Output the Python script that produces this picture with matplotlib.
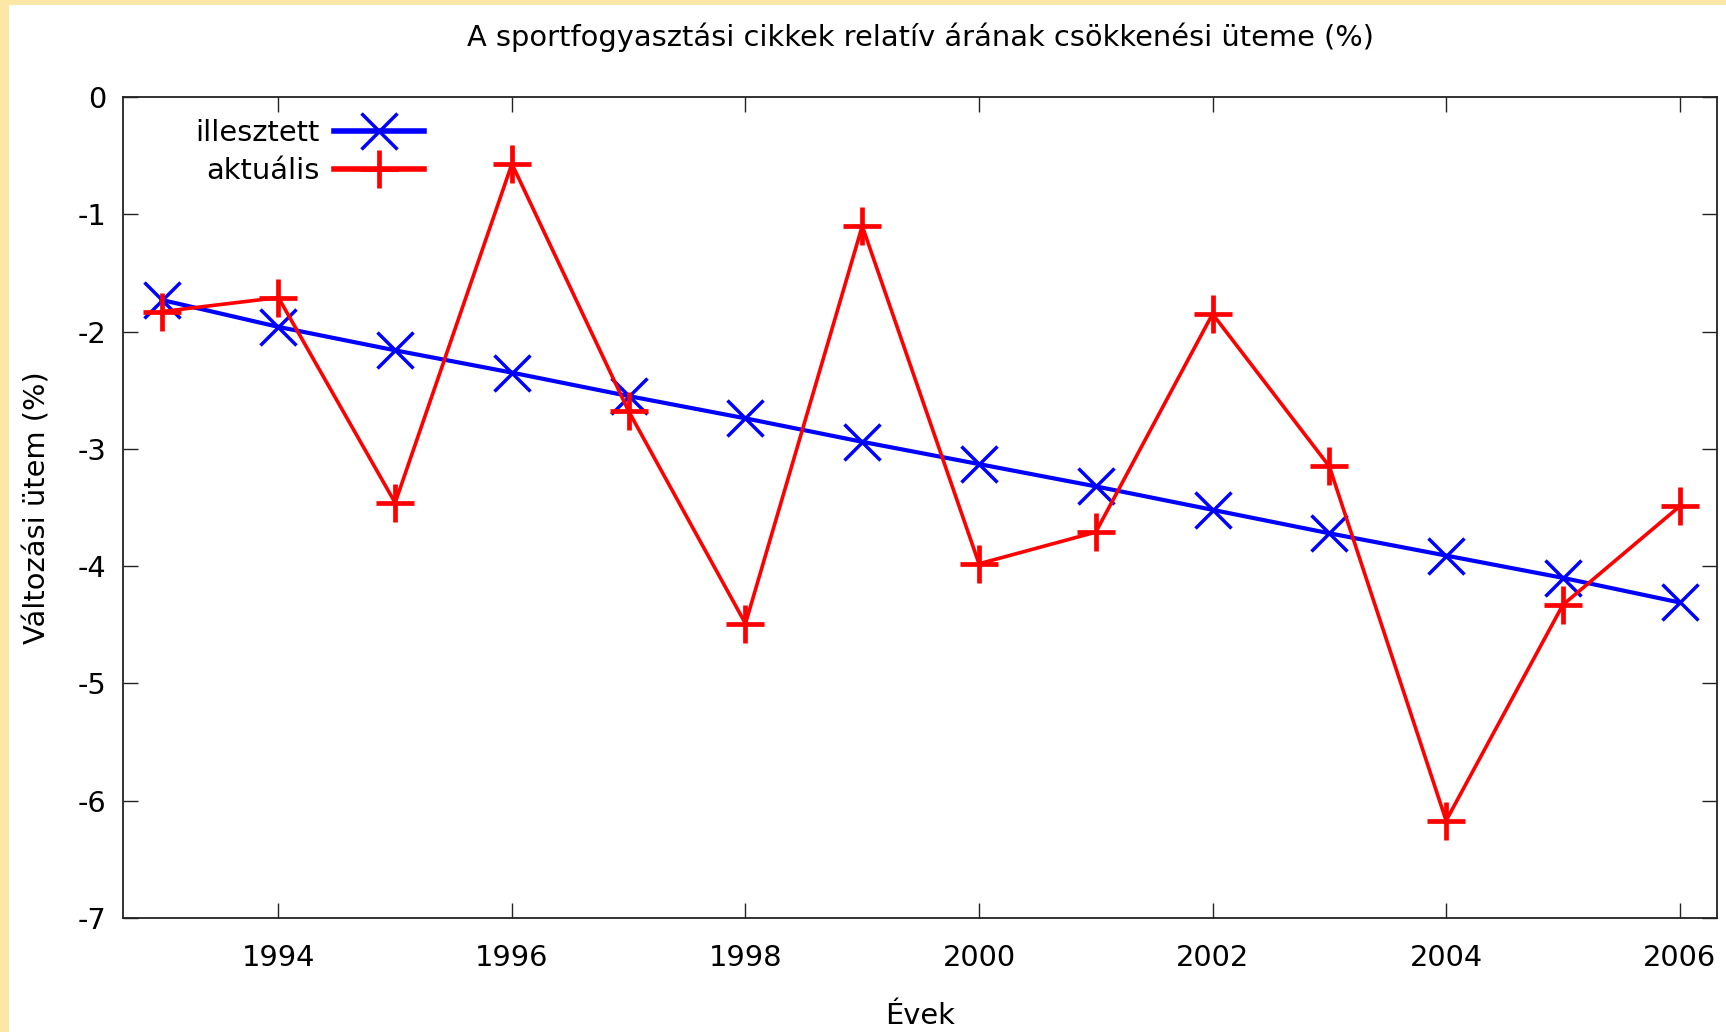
import matplotlib
matplotlib.use("Agg")
import matplotlib.pyplot as plt
from matplotlib.patches import Rectangle

# adatok (leolvasva)
years = [1993, 1994, 1995, 1996, 1997, 1998, 1999, 2000, 2001, 2002, 2003, 2004, 2005, 2006]
fitted = [-1.73, -1.96, -2.16, -2.35, -2.55, -2.74, -2.94, -3.13, -3.32, -3.52, -3.72, -3.91, -4.10, -4.31]
actual = [-1.83, -1.71, -3.46, -0.57, -2.68, -4.49, -1.10, -3.98, -3.71, -1.85, -3.15, -6.17, -4.33, -3.49]
xticks = [1994, 1996, 1998, 2000, 2002, 2004, 2006]
yticks = [0, -1, -2, -3, -4, -5, -6, -7]

plt.rcParams['font.family'] = ['DejaVu Sans']
fs = 20.8

fig = plt.figure(figsize=(17.26, 10.32), dpi=100)
fig.patch.set_facecolor('white')
# sarga szegely a dia szelen
fig.add_artist(Rectangle((0, 0), 9/1726, 1, transform=fig.transFigure,
                         facecolor='#fbe7a6', edgecolor='none', zorder=-10))
fig.add_artist(Rectangle((0, 1 - 5/1032), 1, 5/1032, transform=fig.transFigure,
                         facecolor='#fbe7a6', edgecolor='none', zorder=-10))

ax = fig.add_axes([0.0713, 0.1105, 0.9235, 0.7955])
ax.set_facecolor('white')

ax.plot(years, fitted, color='#0000ff', linewidth=3, marker='x', markersize=26,
        markeredgewidth=2.5, label='illesztett')
ax.plot(years, actual, color='#ff0000', linewidth=2.6, marker='+', markersize=27,
        markeredgewidth=3.4, label='aktuális')

ax.set_xlim(1992.67, 2006.32)
ax.set_ylim(-7, 0)
ax.set_xticks(xticks)
ax.set_yticks(yticks)
ax.set_xticklabels([str(t) for t in xticks])
ax.set_yticklabels([str(t) for t in yticks])
ax.tick_params(direction='in', length=11, width=1, top=True, right=True,
               labelsize=fs, pad=19, colors='#222222', labelcolor='black')
ax.tick_params(axis='y', pad=12)
for s in ax.spines.values():
    s.set_linewidth(1.3)
    s.set_color('#222222')

ax.set_title('A sportfogyasztási cikkek relatív árának csökkenési üteme (%)',
             fontsize=fs, pad=37)
ax.set_xlabel('Évek', fontsize=fs, labelpad=21)
ax.set_ylabel('Változási ütem (%)', fontsize=fs, labelpad=19)

leg = ax.legend(loc='upper left', bbox_to_anchor=(0.029, 1.005), frameon=False,
                markerfirst=False, fontsize=fs, handlelength=3.1, handletextpad=0.5,
                labelspacing=0.36)
for ln in leg.get_lines():
    ln.set_linewidth(4)

fig.savefig('out.png', dpi=100, facecolor=fig.get_facecolor())
